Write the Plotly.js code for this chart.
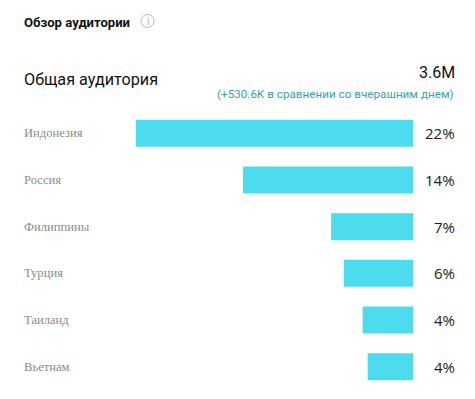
<!DOCTYPE html>
<html><head><meta charset="utf-8">
<script src="https://cdn.plot.ly/plotly-3.0.1.min.js"></script>
<style>html,body{margin:0;padding:0;background:#fff}#c{width:475px;height:399px}</style>
</head><body><div id="c"></div>
<script>
const countries = ["Индонезия","Россия","Филиппины","Турция","Таиланд","Вьетнам"];
const shares = [22, 13.5, 6.5, 5.5, 4.0, 3.6];
const headerTitle = "Обзор аудитории";
const totalLabel = "Общая аудитория";
const totalValue = "3.6M";
const changeText = "(+530.6K в сравнении со вчерашним днем)";

const W = 475, H = 399;
const L = 136, R = 62, T = 110, B = 9;
const pw = W - L - R, ph = H - T - B;
const px = x => (x - L) / pw;
const py = y => (H - B - y) / ph;

const ann = [];
countries.forEach((c, i) => {
  ann.push({text: c, x: px(22), y: c, xref: 'paper', yref: 'y', xanchor: 'left', showarrow: false,
    font: {family: 'Liberation Serif, serif', size: 12.6, color: '#8c8c8c'}});
  ann.push({text: Math.round(shares[i]) + '%', x: px(457), y: c, xref: 'paper', yref: 'y', xanchor: 'right', showarrow: false,
    font: {family: 'Open Sans, sans-serif', size: 15, color: '#222'}});
});
ann.push({text: '<b>' + headerTitle + '</b>', x: px(22), y: py(22), xref: 'paper', yref: 'paper', xanchor: 'left', yanchor: 'middle', showarrow: false,
  font: {family: 'Roboto, Arial, sans-serif', size: 13.1, color: '#111'}});
ann.push({text: 'i', x: px(147.5), y: py(21), xref: 'paper', yref: 'paper', xanchor: 'center', yanchor: 'middle', showarrow: false,
  font: {family: 'Roboto, Arial, sans-serif', size: 10, color: '#b0b0b0'}});
ann.push({text: totalLabel, x: px(22), y: py(80), xref: 'paper', yref: 'paper', xanchor: 'left', yanchor: 'middle', showarrow: false,
  font: {family: 'Roboto, Arial, sans-serif', size: 16.2, color: '#111'}});
ann.push({text: totalValue, x: px(457), y: py(72), xref: 'paper', yref: 'paper', xanchor: 'right', yanchor: 'middle', showarrow: false,
  font: {family: 'Roboto, Arial, sans-serif', size: 16, color: '#111'}});
ann.push({text: changeText, x: px(456), y: py(94), xref: 'paper', yref: 'paper', xanchor: 'right', yanchor: 'middle', showarrow: false,
  font: {family: 'Roboto, Arial, sans-serif', size: 11.7, color: '#3a9fae'}});

Plotly.newPlot('c', [{
  type: 'bar', orientation: 'h', x: shares, y: countries,
  marker: {color: '#4ddcee'}, hoverinfo: 'none'
}], {
  width: W, height: H,
  margin: {l: L, r: R, t: T, b: B},
  paper_bgcolor: '#fff', plot_bgcolor: '#fff',
  bargap: 0.42, showlegend: false,
  xaxis: {range: [22, 0], visible: false, fixedrange: true},
  yaxis: {autorange: 'reversed', visible: false, fixedrange: true},
  annotations: ann,
  shapes: [{type: 'circle', xref: 'paper', yref: 'paper', x0: px(141), x1: px(154), y0: py(14.5), y1: py(27.5),
    line: {color: '#b8b8b8', width: 1}}]
}, {staticPlot: true});
</script></body></html>
